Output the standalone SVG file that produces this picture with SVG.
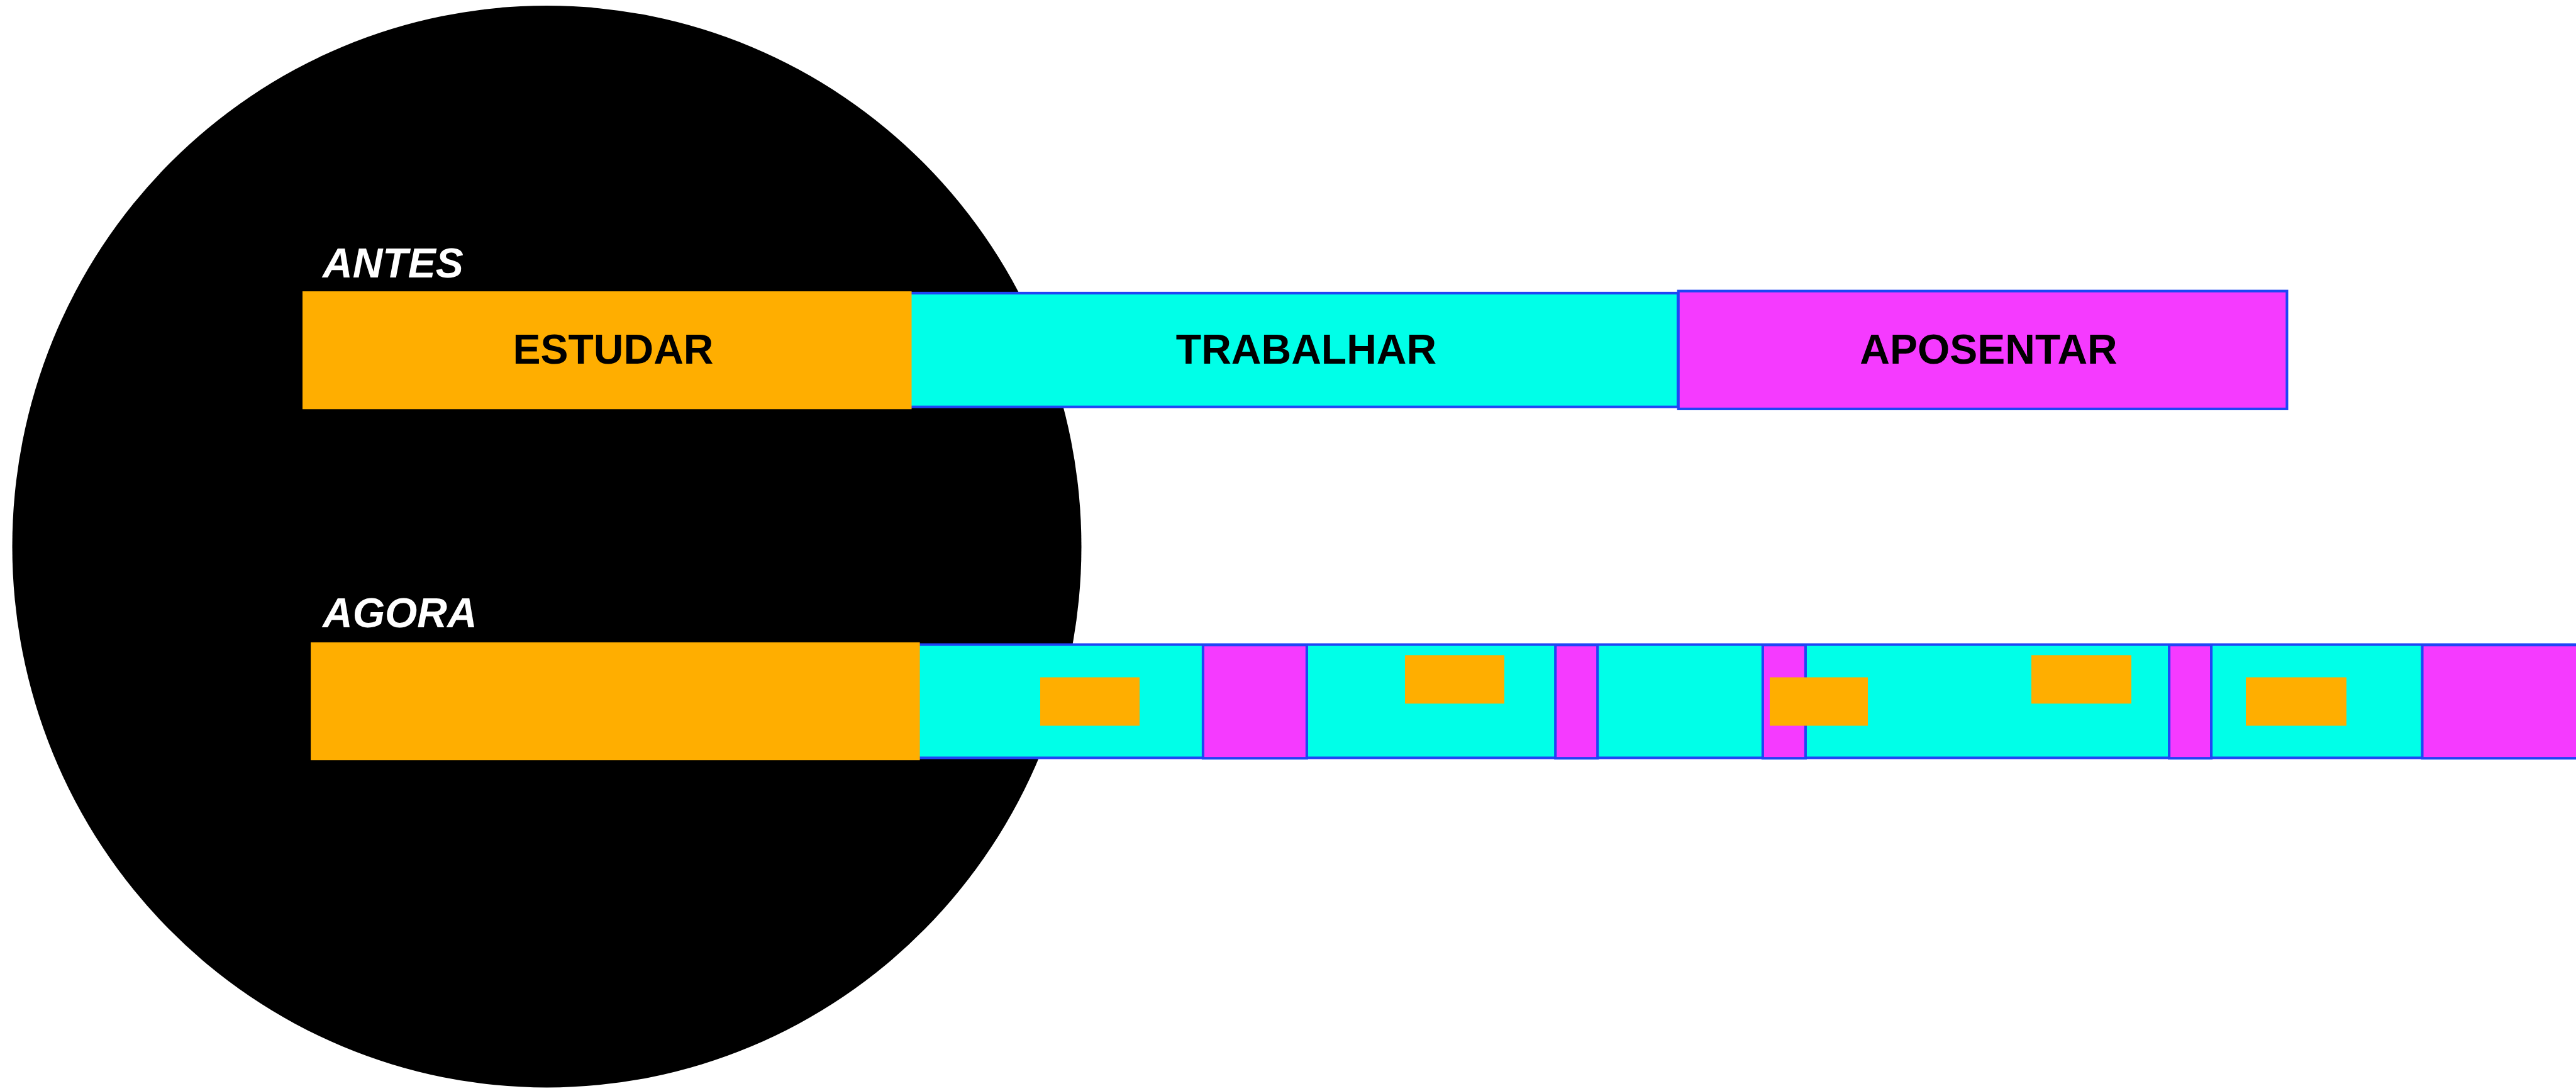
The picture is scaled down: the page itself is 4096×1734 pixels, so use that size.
<svg xmlns="http://www.w3.org/2000/svg" width="4096" height="1734" viewBox="0 0 4096 1734">
<style>
.o{fill:#FFAE00}
.c{fill:#00FFE8;stroke:#1F45F5;stroke-width:4.1}
.m{fill:#F53AFF;stroke:#1F45F5;stroke-width:4.1}
.lbl{font-family:"Liberation Sans",Arial,sans-serif;font-weight:bold;font-size:66px;fill:#000;text-anchor:middle}
.ttl{font-family:"Liberation Sans",Arial,sans-serif;font-weight:bold;font-style:italic;font-size:66px;fill:#fff}
</style>
<rect width="4096" height="1734" fill="#fff"/>
<ellipse id="circle" cx="869.5" cy="868.7" rx="850" ry="859.7" fill="#000"/>
<g id="antes">
<text class="ttl" x="513" y="441">ANTES</text>
<g id="trabalhar"><rect class="c" x="1390" y="465.9" width="1278" height="180.8"/><text class="lbl" x="2077" y="578.3">TRABALHAR</text></g>
<g id="aposentar"><rect class="m" x="2668.7" y="462.6" width="967.7" height="187.3"/><text class="lbl" x="3162" y="578.3">APOSENTAR</text></g>
<g id="estudar"><rect class="o" x="481" y="463" width="968.5" height="187.3"/><text class="lbl" x="975" y="578.3">ESTUDAR</text></g>
</g>
<g id="agora">
<text class="ttl" x="513" y="997">AGORA</text>
<g id="agora-trabalho"><rect class="c" x="1400" y="1024.5" width="2720" height="180"/></g>
<g id="agora-pausas">
<rect class="m" x="1912.9" y="1025.2" width="165" height="180"/>
<rect class="m" x="2473.2" y="1025.2" width="67" height="180"/>
<rect class="m" x="2802.9" y="1025.2" width="68" height="180"/>
<rect class="m" x="3449.1" y="1025.2" width="67" height="180"/>
<rect class="m" x="3851.5" y="1025.2" width="300" height="180"/>
</g>
<g id="agora-estudo"><rect class="o" x="494.1" y="1020.9" width="968.5" height="187.3"/></g>
<g id="agora-cursos">
<rect class="o" x="1654" y="1076.5" width="158" height="77"/>
<rect class="o" x="2234" y="1041.3" width="158" height="77"/>
<rect class="o" x="2814" y="1076.5" width="156" height="77"/>
<rect class="o" x="3230" y="1041.3" width="159" height="77"/>
<rect class="o" x="3571" y="1076.5" width="160" height="77"/>
</g>
</g>
</svg>
